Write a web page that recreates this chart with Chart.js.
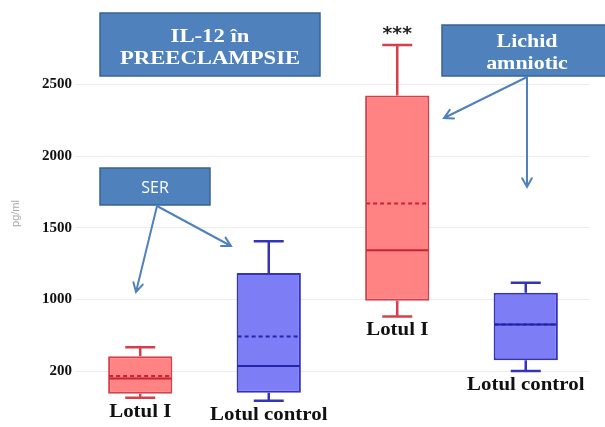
<!DOCTYPE html>
<html>
<head>
<meta charset="utf-8">
<script src="https://cdn.jsdelivr.net/npm/chart.js@4"></script>
<style>
  html, body { margin: 0; padding: 0; background: #ffffff; }
  #wrap { width: 605px; height: 427px; position: relative; }
</style>
</head>
<body>
<div id="wrap"><canvas id="c" width="605" height="427"></canvas></div>
<script>
// IL-12 (pg/ml) in serum (SER) and amniotic fluid (Lichid amniotic)
const categories = ['Lotul I', 'Lotul control', 'Lotul I', 'Lotul control'];
const groups = ['SER', 'SER', 'Lichid amniotic', 'Lichid amniotic'];
const whiskerLow = [313, 292, 881, 500];
const quartile1 = [341, 348, 991, 576];
const medianVals = [448, 535, 1344, 825];
const meanVals = [465, 742, 1670, 825];
const quartile3 = [604, 1185, 2424, 1047];
const whiskerHigh = [666, 1407, 2777, 1116];
const tickValues = [500, 1000, 1500, 2000, 2500];
const tickLabels = ['200', '1000', '1500', '2000', '2500'];
const significance = ['', '', '***', ''];

const RED = { fill: 'rgba(255,120,120,0.92)', line: 'rgb(214,64,76)', mid: 'rgb(200,36,48)' };
const BLUE = { fill: 'rgba(118,118,246,0.95)', line: 'rgb(52,52,186)', mid: 'rgb(36,36,170)' };
const palette = categories.map(c => c === 'Lotul I' ? RED : BLUE);
const CALLOUT = '#4f81bd';
const CALLOUT_EDGE = '#3a6394';
const SERIF = '"Liberation Serif", "Times New Roman", serif';

function stretchedText(ctx, text, x, y, font, color, sx) {
  ctx.save();
  ctx.font = font;
  ctx.fillStyle = color;
  ctx.textAlign = 'center';
  ctx.textBaseline = 'alphabetic';
  ctx.translate(x, y);
  ctx.scale(sx, 1);
  ctx.fillText(text, 0, 0);
  ctx.restore();
}

function arrow(ctx, x1, y1, x2, y2) {
  ctx.save();
  ctx.strokeStyle = CALLOUT;
  ctx.lineWidth = 2;
  ctx.lineCap = 'round';
  ctx.beginPath();
  ctx.moveTo(x1, y1);
  ctx.lineTo(x2, y2);
  const a = Math.atan2(y2 - y1, x2 - x1);
  const L = 10, w = 0.5;
  ctx.moveTo(x2 - L * Math.cos(a - w), y2 - L * Math.sin(a - w));
  ctx.lineTo(x2, y2);
  ctx.lineTo(x2 - L * Math.cos(a + w), y2 - L * Math.sin(a + w));
  ctx.stroke();
  ctx.restore();
}

function callout(ctx, x, y, w, h, lines, font, sx) {
  ctx.save();
  ctx.fillStyle = CALLOUT;
  ctx.strokeStyle = CALLOUT_EDGE;
  ctx.lineWidth = 1.5;
  ctx.fillRect(x, y, w, h);
  ctx.strokeRect(x, y, w, h);
  ctx.restore();
  lines.forEach(l => stretchedText(ctx, l.text, x + w / 2, l.y, font, '#ffffff', sx));
}

// whiskers, medians, means, group labels and callouts
const boxPlotExtras = {
  id: 'boxPlotExtras',
  afterDatasetsDraw(chart) {
    const ctx = chart.ctx;
    const y = chart.scales.y;
    const meta = chart.getDatasetMeta(0);
    meta.data.forEach((bar, i) => {
      const c = palette[i];
      const cx = bar.x;
      const half = bar.width / 2;
      const cap = 15;
      const yHi = y.getPixelForValue(whiskerHigh[i]);
      const yQ3 = y.getPixelForValue(quartile3[i]);
      const yQ1 = y.getPixelForValue(quartile1[i]);
      const yLo = y.getPixelForValue(whiskerLow[i]);
      ctx.save();
      ctx.strokeStyle = c.line;
      ctx.lineWidth = 2.5;
      ctx.beginPath();
      ctx.moveTo(cx, yQ3); ctx.lineTo(cx, yHi);
      ctx.moveTo(cx - cap, yHi); ctx.lineTo(cx + cap, yHi);
      ctx.moveTo(cx, yQ1); ctx.lineTo(cx, yLo);
      ctx.moveTo(cx - cap, yLo); ctx.lineTo(cx + cap, yLo);
      ctx.stroke();
      // median
      ctx.strokeStyle = c.mid;
      ctx.lineWidth = 2;
      const yMed = y.getPixelForValue(medianVals[i]);
      ctx.beginPath();
      ctx.moveTo(cx - half + 1, yMed); ctx.lineTo(cx + half - 1, yMed);
      ctx.stroke();
      // mean
      const yMean = y.getPixelForValue(meanVals[i]);
      ctx.setLineDash([4, 3]);
      ctx.lineWidth = 2;
      ctx.beginPath();
      ctx.moveTo(cx - half + 1, yMean); ctx.lineTo(cx + half - 1, yMean);
      ctx.stroke();
      ctx.restore();
      // group label under the lower whisker
      stretchedText(ctx, categories[i], cx, yLo + 19, 'bold 18px ' + SERIF, '#111111', 1.16);
      if (significance[i]) {
        stretchedText(ctx, significance[i], cx, yHi - 6, 'bold 17px "DejaVu Sans", sans-serif', '#222222', 1.1);
      }
    });

    // callouts
    callout(ctx, 100, 13, 220, 63, [{ text: 'IL-12 în', y: 42 }, { text: 'PREECLAMPSIE', y: 64 }], 'bold 18px ' + SERIF, 1.26);
    callout(ctx, 100, 168, 110, 37, [{ text: groups[0], y: 193 }], '16px "Open Sans", "Liberation Sans", sans-serif', 1.0);
    callout(ctx, 442, 25, 170, 51, [{ text: 'Lichid', y: 47 }, { text: 'amniotic', y: 69 }], 'bold 18px ' + SERIF, 1.22);
    arrow(ctx, 157, 206, 136, 292);
    arrow(ctx, 157, 206, 231, 246);
    arrow(ctx, 527, 77, 444, 118);
    arrow(ctx, 527, 77, 527, 187);
  }
};

new Chart(document.getElementById('c'), {
  type: 'bar',
  data: {
    labels: categories,
    datasets: [{
      data: categories.map((_, i) => [quartile1[i], quartile3[i]]),
      backgroundColor: palette.map(c => c.fill),
      borderColor: palette.map(c => c.line),
      borderWidth: 2,
      borderSkipped: false,
      barPercentage: 0.5,
      categoryPercentage: 1.0
    }]
  },
  options: {
    responsive: false,
    animation: false,
    layout: { padding: { top: 10, bottom: 7, right: 15, left: 0 } },
    plugins: { legend: { display: false }, tooltip: { enabled: false } },
    scales: {
      x: { display: false },
      y: {
        min: 200,
        max: 3000,
        afterBuildTicks: axis => { axis.ticks = tickValues.map(v => ({ value: v })); },
        afterFit: axis => { axis.width = 76; },
        ticks: {
          padding: 4,
          color: '#111111',
          font: { family: SERIF, size: 15, weight: 'bold' },
          callback: v => tickLabels[tickValues.indexOf(v)]
        },
        grid: { color: '#ececec', lineWidth: 1, drawTicks: false },
        border: { display: false },
        title: {
          display: true,
          text: 'pg/ml',
          color: '#a8a8a8',
          font: { family: '"Liberation Sans", sans-serif', size: 11 },
          padding: { top: 9, bottom: 0 }
        }
      }
    }
  },
  plugins: [boxPlotExtras]
});
</script>
</body>
</html>
